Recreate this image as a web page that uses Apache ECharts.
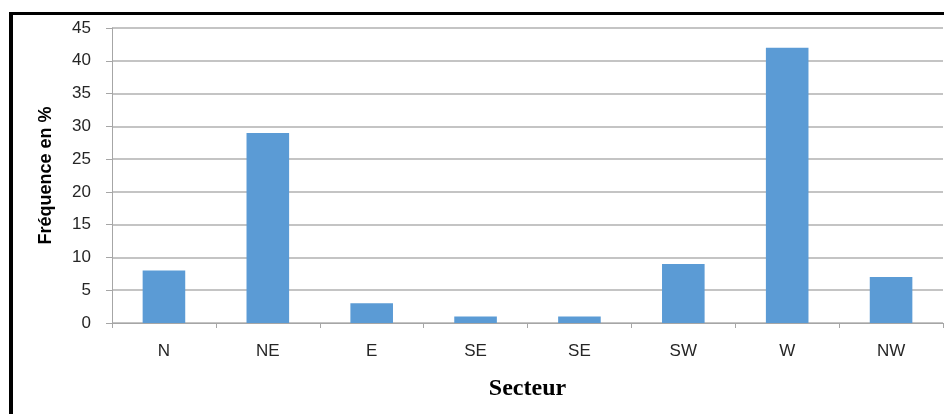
<!DOCTYPE html>
<html>
<head>
<meta charset="utf-8">
<script src="https://cdn.jsdelivr.net/npm/echarts@6/dist/echarts.min.js"></script>
<style>
html,body{margin:0;padding:0;background:#fff;}
#chart{width:944px;height:414px;}
</style>
</head>
<body>
<div id="chart"></div>
<script>
const categories = ['N', 'NE', 'E', 'SE', 'SE ', 'SW', 'W', 'NW'];
const frequencies = [8, 29, 3, 1, 1, 9, 42, 7];
const yTicks = [0, 5, 10, 15, 20, 25, 30, 35, 40, 45];

const chart = echarts.init(document.getElementById('chart'), null, {renderer: 'canvas'});
const labelFont = '"Liberation Sans", Arial, sans-serif';
chart.setOption({
  animation: false,
  backgroundColor: '#ffffff',
  grid: {left: 112, right: 1, top: 28, bottom: 91, containLabel: false},
  xAxis: {
    type: 'category',
    data: categories,
    name: 'Secteur',
    nameLocation: 'middle',
    nameGap: 54,
    nameTextStyle: {fontFamily: '"Liberation Serif", "DejaVu Serif", serif', fontWeight: 'bold', fontSize: 24, color: '#000'},
    axisLine: {lineStyle: {color: '#a6a6a6', width: 1}},
    axisTick: {show: true, alignWithLabel: false, length: 5, lineStyle: {color: '#a6a6a6'}},
    axisLabel: {color: '#262626', fontSize: 17, fontFamily: labelFont, margin: 20,
      formatter: v => v.trim()}
  },
  yAxis: {
    type: 'value',
    min: yTicks[0],
    max: yTicks[yTicks.length - 1],
    interval: 5,
    name: 'Fréquence en %',
    nameLocation: 'middle',
    nameGap: 57,
    nameRotate: 90,
    nameTextStyle: {fontFamily: '"Liberation Sans", Arial, sans-serif', fontWeight: 'bold', fontSize: 18, color: '#000'},
    axisLine: {show: true, lineStyle: {color: '#a6a6a6', width: 1}},
    axisTick: {show: true, length: 6, lineStyle: {color: '#a6a6a6'}},
    axisLabel: {color: '#262626', fontSize: 17, fontFamily: labelFont, margin: 21},
    splitLine: {show: true, lineStyle: {color: '#b0b0b0', width: 1.5}}
  },
  series: [{
    type: 'bar',
    data: frequencies,
    barCategoryGap: '59%',
    itemStyle: {color: '#5b9bd5'}
  }],
  graphic: [
    {type: 'rect', shape: {x: 9, y: 12, width: 4, height: 402}, style: {fill: '#000'}, z: 100},
    {type: 'rect', shape: {x: 9, y: 12, width: 935, height: 3}, style: {fill: '#000'}, z: 100}
  ]
});
</script>
</body>
</html>
